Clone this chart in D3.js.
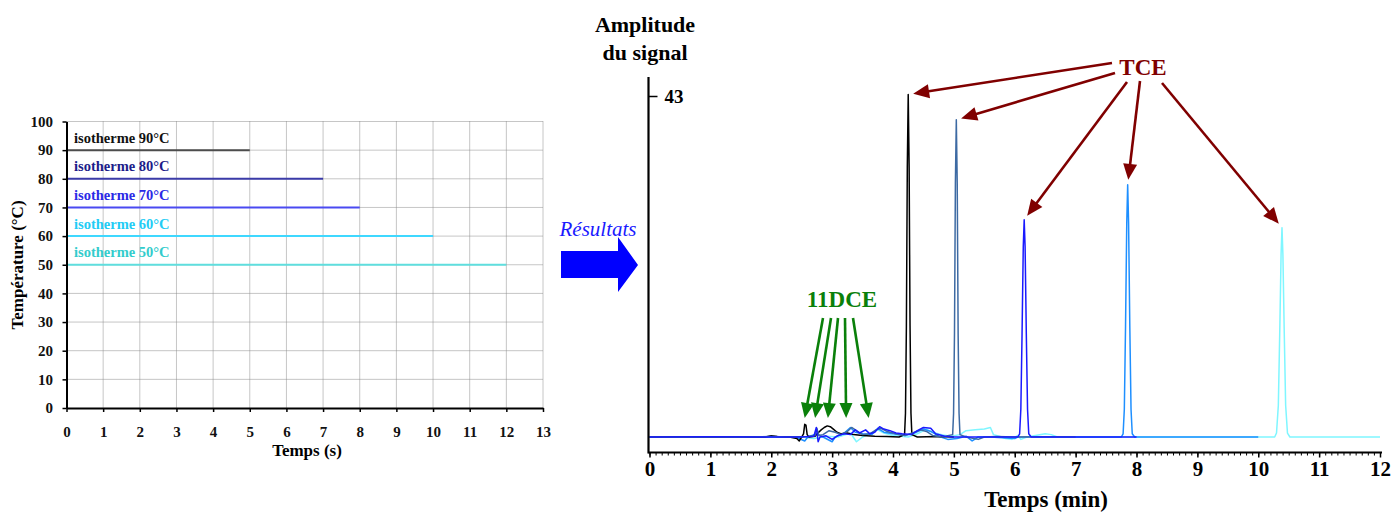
<!DOCTYPE html>
<html><head><meta charset="utf-8">
<script src="https://cdn.jsdelivr.net/npm/d3@7"></script>
<style>
html,body{margin:0;padding:0;background:#fff;}
svg{display:block;}
text{font-family:"Liberation Serif","Times New Roman",serif;}
</style></head>
<body>
<script>
// ---------- DATA ----------
// Left chart: isothermal programmes
const isoTemps = [90, 80, 70, 60, 50];
const isoEnds = [5, 7, 8, 10, 12];
const isoLabels = ["isotherme 90°C", "isotherme 80°C", "isotherme 70°C", "isotherme 60°C", "isotherme 50°C"];
const isoLineColors = ["#4d4d4d", "#3b3ba8", "#4a4af2", "#3fd8ff", "#5fdede"];
const isoTextColors = ["#111111", "#1c1c8a", "#2a2ae6", "#22ccf5", "#33cccc"];
const leftXTicks = [0,1,2,3,4,5,6,7,8,9,10,11,12,13];
const leftYTicks = [0,10,20,30,40,50,60,70,80,90,100];

// Right chart: chromatograms [time (min), amplitude]
const signal90 = [[0,0],[0.5,0.02],[1.0,0],[1.5,0.03],[1.9,0],[2.0,0.15],[2.1,0.05],[2.3,0],[2.42,-0.2],[2.46,-0.5],[2.5,0],[2.53,0.4],[2.55,1.6],[2.57,1.5],[2.59,0.3],[2.62,0],[2.72,0.1],[2.78,0.6],[2.82,0.9],[2.87,1.2],[2.92,1.4],[2.97,1.3],[3.02,1.0],[3.08,0.6],[3.15,0.4],[3.25,0.5],[3.35,0.3],[3.5,0.2],[3.7,0.1],[3.9,0.05],[4.1,0],[4.19,0.3],[4.205,3],[4.22,14],[4.235,34],[4.25,43.2],[4.265,34],[4.28,14],[4.295,3],[4.31,0.3],[4.4,0],[4.7,0.05],[5.0,0]];
const signal80 = [[0,0],[1.0,0],[2.0,0.05],[2.3,0],[2.6,0.05],[2.72,0.2],[2.75,1.1],[2.78,0.2],[2.85,0.3],[2.95,0.8],[3.05,0.6],[3.15,0.3],[3.25,0.7],[3.32,1.2],[3.4,0.8],[3.5,0.3],[3.62,0.4],[3.72,0.9],[3.8,1.1],[3.9,0.7],[4.0,0.5],[4.1,0.3],[4.2,0.2],[4.35,0.6],[4.45,0.9],[4.55,0.7],[4.65,0.2],[4.8,0],[4.98,0.3],[4.995,3],[5.01,13],[5.025,32],[5.04,40],[5.055,32],[5.07,13],[5.085,3],[5.1,0.3],[5.2,0],[5.4,-0.3],[5.5,0],[5.7,0.05],[6.0,0],[6.5,0.02],[7.0,0]];
const signal70 = [[0,0],[1.0,0.02],[2.0,0],[2.5,0],[2.7,0.1],[2.74,1.2],[2.77,-0.6],[2.8,0],[2.9,0.15],[3.0,-0.3],[3.1,0.2],[3.2,0.4],[3.3,0.3],[3.38,0.9],[3.45,0.5],[3.55,0.9],[3.62,0.4],[3.7,0.6],[3.78,1.3],[3.85,1.0],[3.95,0.8],[4.05,0.5],[4.15,0.4],[4.3,0.3],[4.4,0.8],[4.5,1.2],[4.62,1.1],[4.7,0.4],[4.85,0.1],[5.0,0],[5.5,0],[6.05,0],[6.08,0.4],[6.1,3.5],[6.12,13],[6.14,24],[6.155,27.4],[6.17,24],[6.19,13],[6.21,3.5],[6.23,0.4],[6.27,0],[6.5,0],[7.0,0],[7.5,0],[8.0,0]];
const signal60 = [[0,0],[2.0,0],[2.4,0],[2.55,-0.5],[2.6,0],[2.75,0.4],[2.85,0],[3.0,-0.6],[3.05,0],[3.2,0.5],[3.3,1.2],[3.38,0.6],[3.5,0.4],[3.65,0.3],[3.75,1.1],[3.85,0.6],[4.0,0.4],[4.2,0.2],[4.35,0.5],[4.5,1.0],[4.62,0.7],[4.75,0.1],[4.9,-0.3],[5.05,-0.2],[5.2,0.1],[5.3,-0.5],[5.4,0],[5.6,0],[6.0,-0.2],[6.05,0],[6.5,0],[7.0,0],[7.5,0],[7.75,0],[7.78,0.4],[7.8,3.5],[7.82,14],[7.84,27],[7.855,31.8],[7.87,27],[7.89,14],[7.91,3.5],[7.93,0.4],[7.97,0],[8.5,0],[9.0,0],[9.5,0],[10.0,0]];
const signal50 = [[0,0],[2.0,0],[2.5,0],[2.7,-0.2],[2.9,0.1],[3.1,0],[3.3,0.5],[3.4,-0.6],[3.5,0],[3.75,0.9],[3.85,0.5],[4.0,0.2],[4.25,0],[4.4,0.4],[4.55,1.0],[4.65,0.6],[4.8,0.3],[4.95,0.1],[5.1,0.3],[5.2,0.8],[5.35,0.9],[5.5,1.0],[5.6,1.2],[5.65,0.3],[5.75,0.1],[5.85,-0.2],[5.95,-0.3],[6.05,0.2],[6.1,-0.3],[6.2,0],[6.5,0.4],[6.6,0.3],[6.7,0],[7.0,0],[8.0,0],[9.0,0],[10.0,0],[10.27,0],[10.3,0.5],[10.33,4],[10.355,14],[10.375,23],[10.39,26.4],[10.405,23],[10.425,14],[10.45,4],[10.48,0.5],[10.52,0],[11.0,0],[11.5,0],[12.0,0]];
const signalColors = ["#000000", "#3d6aa3", "#1a1aff", "#1e8fff", "#7ff6ff"];
const rightXTicks = [0,1,2,3,4,5,6,7,8,9,10,11,12];
const rightYTicks = [43];
const dceTimes = [2.55, 2.72, 2.93, 3.23, 3.60];
const dceTipLevel = 2.4;

// ---------- DRAW ----------
const W = 1393, H = 513;
const svg = d3.select("body").append("svg").attr("width", W).attr("height", H);

// ===== LEFT CHART =====
const xL = d3.scaleLinear().domain([0, 13]).range([66.5, 543]);
const yL = d3.scaleLinear().domain([0, 100]).range([408, 121.5]);
const gL = svg.append("g");

// grid
gL.append("g").selectAll("line").data(leftXTicks.slice(1)).join("line")
  .attr("x1", d => xL(d)).attr("x2", d => xL(d)).attr("y1", yL(100)).attr("y2", yL(0))
  .attr("stroke", "#8c8c8c").attr("stroke-width", 1).attr("stroke-dasharray", "1,1");
gL.append("g").selectAll("line").data(leftYTicks.slice(1)).join("line")
  .attr("x1", xL(0)).attr("x2", xL(13)).attr("y1", d => yL(d)).attr("y2", d => yL(d))
  .attr("stroke", "#8c8c8c").attr("stroke-width", 1).attr("stroke-dasharray", "1,1");

// isotherm lines
isoTemps.forEach((t, i) => {
  gL.append("line").attr("x1", xL(0)).attr("x2", xL(isoEnds[i]))
    .attr("y1", yL(t)).attr("y2", yL(t))
    .attr("stroke", isoLineColors[i]).attr("stroke-width", 2);
  gL.append("text").attr("x", xL(0) + 7.5).attr("y", yL(t) - 7.5)
    .attr("fill", isoTextColors[i]).attr("font-size", 14.5).attr("font-weight", "bold")
    .text(isoLabels[i]);
});

// axes
const axL_x = gL.append("g").attr("transform", `translate(0,${yL(0)})`)
  .call(d3.axisBottom(xL).tickValues(leftXTicks).tickSize(4).tickSizeOuter(0).tickPadding(14));
const axL_y = gL.append("g").attr("transform", `translate(${xL(0)},0)`)
  .call(d3.axisLeft(yL).tickValues(leftYTicks).tickSize(4).tickSizeOuter(0).tickPadding(9.5));
[axL_x, axL_y].forEach(a => {
  a.select(".domain").attr("stroke", "#000").attr("stroke-width", 2);
  a.selectAll(".tick line").attr("stroke", "#000").attr("stroke-width", 1.5);
  a.selectAll(".tick text").attr("font-family", "Liberation Serif, serif")
    .attr("font-size", 15).attr("font-weight", "bold").attr("fill", "#111");
});
gL.append("text").attr("x", 307).attr("y", 456).attr("text-anchor", "middle")
  .attr("font-size", 17).attr("font-weight", "bold").text("Temps (s)");
gL.append("text").attr("transform", "translate(23,265) rotate(-90)").attr("text-anchor", "middle")
  .attr("font-size", 17).attr("font-weight", "bold").text("Température (°C)");

// ===== MIDDLE ARROW =====
svg.append("text").attr("x", 598).attr("y", 236).attr("text-anchor", "middle")
  .attr("font-size", 21).attr("font-style", "italic").attr("fill", "#1a1aff").text("Résultats");
svg.append("path").attr("d", "M561,251 L618,251 L618,237 L638,265 L618,292 L618,278 L561,278 Z")
  .attr("fill", "#0000ff");

// ===== RIGHT CHART =====
const xR = d3.scaleLinear().domain([0, 12]).range([649.5, 1380]);
const yR = d3.scaleLinear().domain([0, 43]).range([437, 96]);
const gR = svg.append("g");

const line = d3.line().x(d => xR(d[0])).y(d => yR(d[1]));
const signals = [signal90, signal80, signal70, signal60, signal50];
const drawOrder = [4, 3, 0, 1, 2];
drawOrder.forEach(i => {
  gR.append("path").datum(signals[i]).attr("d", line).attr("fill", "none")
    .attr("stroke", signalColors[i]).attr("stroke-width", 1.5).attr("stroke-linejoin", "round");
});

// x axis: minor ticks
const axR_minor = gR.append("g").attr("transform", "translate(0,452.5)")
  .call(d3.axisBottom(xR).tickValues(d3.range(0, 121).map(d => d / 10)).tickSize(3).tickSizeOuter(0).tickFormat(""));
axR_minor.select(".domain").remove();
axR_minor.selectAll(".tick line").attr("stroke", "#000").attr("stroke-width", 1);
const axR_x = gR.append("g").attr("transform", "translate(0,452.5)")
  .call(d3.axisBottom(xR).tickValues(rightXTicks).tickSize(5).tickSizeOuter(0).tickPadding(4));
axR_x.select(".domain").attr("stroke", "#000").attr("stroke-width", 2.2)
  .attr("d", `M${xR(0) - 1},0H${xR(12) + 2}`);
axR_x.selectAll(".tick line").attr("stroke", "#000").attr("stroke-width", 1.5);
axR_x.selectAll(".tick text").attr("font-family", "Liberation Serif, serif")
  .attr("font-size", 21).attr("font-weight", "bold").attr("fill", "#000");

// y axis
gR.append("line").attr("x1", 648.5).attr("x2", 648.5).attr("y1", yR(45.4)).attr("y2", 453.5)
  .attr("stroke", "#000").attr("stroke-width", 2.2);
const axR_y = gR.append("g").attr("transform", "translate(648.5,0)")
  .call(d3.axisRight(yR).tickValues(rightYTicks).tickSize(9).tickSizeOuter(0).tickPadding(7));
axR_y.select(".domain").remove();
axR_y.selectAll(".tick line").attr("stroke", "#000").attr("stroke-width", 1.5);
axR_y.selectAll(".tick text").attr("font-family", "Liberation Serif, serif")
  .attr("font-size", 19).attr("font-weight", "bold").attr("fill", "#000");

gR.append("text").attr("x", 645).attr("y", 32).attr("text-anchor", "middle")
  .attr("font-size", 22).attr("font-weight", "bold").text("Amplitude");
gR.append("text").attr("x", 645).attr("y", 60).attr("text-anchor", "middle")
  .attr("font-size", 22).attr("font-weight", "bold").text("du signal");
gR.append("text").attr("x", 1046).attr("y", 507).attr("text-anchor", "middle")
  .attr("font-size", 23).attr("font-weight", "bold").text("Temps (min)");

// arrow helper
function arrow(g, x1, y1, x2, y2, color, hl, hw, sw) {
  const dx = x2 - x1, dy = y2 - y1, L = Math.hypot(dx, dy);
  const ux = dx / L, uy = dy / L;
  const bx = x2 - ux * hl, by = y2 - uy * hl;
  g.append("line").attr("x1", x1).attr("y1", y1).attr("x2", bx + ux * 2).attr("y2", by + uy * 2)
    .attr("stroke", color).attr("stroke-width", sw);
  g.append("path").attr("d", `M${x2},${y2}L${bx - uy * hw / 2},${by + ux * hw / 2}L${bx + uy * hw / 2},${by - ux * hw / 2}Z`)
    .attr("fill", color);
}

// TCE annotation
const tceColor = "#800000";
gR.append("text").attr("x", 1143).attr("y", 75).attr("text-anchor", "middle")
  .attr("font-size", 23).attr("font-weight", "bold").attr("fill", tceColor).text("TCE");
const tceStarts = [[1112, 63], [1115, 73], [1127, 82], [1140, 81], [1162, 83]];
signals.forEach((s, i) => {
  const pk = s.reduce((a, b) => (b[1] > a[1] ? b : a));
  const px = xR(pk[0]), py = yR(pk[1]);
  const [sx, sy] = tceStarts[i];
  const L = Math.hypot(px - sx, py - sy);
  const tx = px - (px - sx) / L * 5, ty = py - (py - sy) / L * 5;
  arrow(gR, sx, sy, tx, ty, tceColor, 16, 14, 2.6);
});

// 11DCE annotation
const dceColor = "#0a800a";
gR.append("text").attr("x", 842).attr("y", 307).attr("text-anchor", "middle")
  .attr("font-size", 23).attr("font-weight", "bold").attr("fill", dceColor).text("11DCE");
const dceStartX = [823, 831, 838, 845, 853];
dceTimes.forEach((t, i) => {
  arrow(gR, dceStartX[i], 318, xR(t), yR(dceTipLevel), dceColor, 15, 13, 2.6);
});
</script>
</body></html>
